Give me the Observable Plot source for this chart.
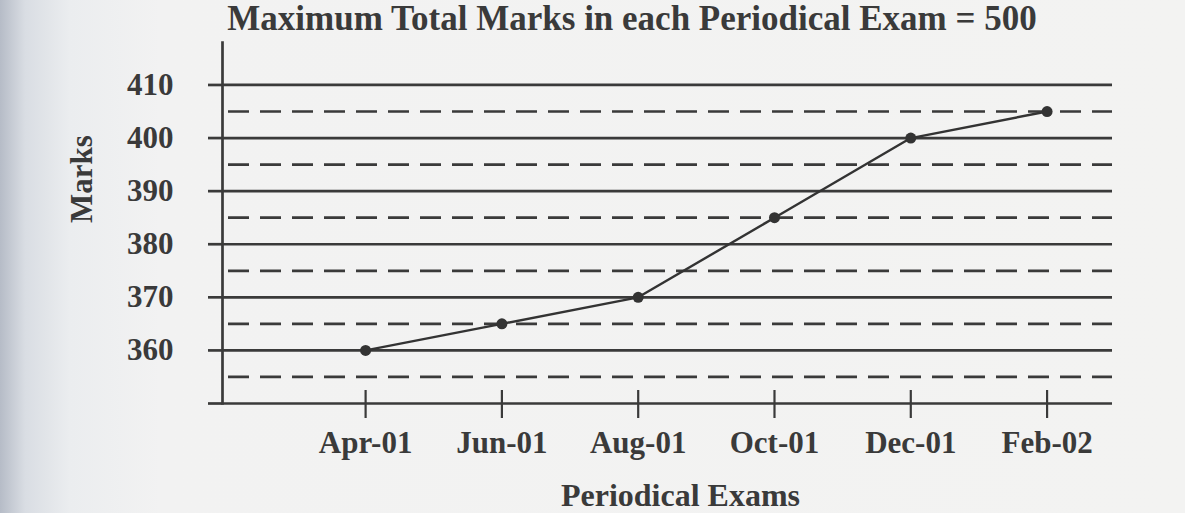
<!DOCTYPE html>
<html>
<head>
<meta charset="utf-8">
<script src="https://cdn.jsdelivr.net/npm/d3@7"></script>
<script src="https://cdn.jsdelivr.net/npm/@observablehq/plot@0.6"></script>
<style>
  html, body { margin: 0; padding: 0; width: 1185px; height: 513px; overflow: hidden; }
  body {
    position: relative;
    background: linear-gradient(to right, #b6bcc7 0px, #d9dde3 25px, #ebedef 70px, #f2f2f2 160px, #f3f3f2 100%);
    font-family: "Liberation Serif", serif;
  }
  #title {
    position: absolute; left: 0; top: 1px; width: 1264px;
    text-align: center; font-size: 35px; line-height: 35px; font-weight: bold; color: #3a3a3a;
    white-space: nowrap;
  }
  #chart { position: absolute; left: 0; top: 0; }
</style>
</head>
<body>
<div id="chart"></div>
<div id="title">Maximum Total Marks in each Periodical Exam = 500</div>
<script>
const exams = ["Apr-01", "Jun-01", "Aug-01", "Oct-01", "Dec-01", "Feb-02"];
const marks = [360, 365, 370, 385, 400, 405];
const solidLines = [350, 360, 370, 380, 390, 400, 410];
const dashedLines = [355, 365, 375, 385, 395, 405];
const yLabel = "Marks";
const xLabel = "Periodical Exams";

const data = exams.map((e, i) => ({ i, exam: e, marks: marks[i] }));
const ink = "#3a3a3a";

const chart = Plot.plot({
  width: 1185,
  height: 513,
  marginLeft: 222,
  marginRight: 73,
  marginTop: 42,
  marginBottom: 110,
  style: { background: "transparent", fontFamily: "'Liberation Serif', serif", fontWeight: "bold", color: ink },
  x: { domain: [-1.05, 5.48], axis: null },
  y: { domain: [350, 418], axis: null },
  marks: [
    Plot.ruleY(dashedLines, { stroke: ink, strokeWidth: 2.7, strokeDasharray: "21,11", strokeDashoffset: 26 }),
    Plot.ruleY(solidLines, { stroke: ink, strokeWidth: 2.7 }),
    Plot.frame({ anchor: "left", stroke: ink, strokeWidth: 2.7 }),
    Plot.axisY({
      ticks: solidLines, tickSize: 14, tickPadding: 35, strokeWidth: 2.7, stroke: ink,
      tickFormat: d => (d === 350 ? "" : d), fontSize: 31, fill: ink, label: null
    }),
    Plot.axisX({
      ticks: data.map(d => d.i), tickSize: 28, dy: -13, tickPadding: 12, strokeWidth: 2.2, stroke: ink,
      tickFormat: i => exams[i], fontSize: 31, fill: ink, label: null
    }),
    Plot.line(data, { x: "i", y: "marks", stroke: "#333", strokeWidth: 2.4 }),
    Plot.dot(data, { x: "i", y: "marks", r: 5.5, fill: "#333", stroke: "none" }),
    Plot.text([xLabel], { frameAnchor: "bottom", dx: 13, dy: 102, lineAnchor: "bottom", fontSize: 32, fill: ink, text: d => d }),
    Plot.text([yLabel], { frameAnchor: "left", dx: -140, rotate: -90, lineAnchor: "middle", fontSize: 31, fill: ink, text: d => d })
  ]
});
document.getElementById("chart").append(chart);
</script>
</body>
</html>
